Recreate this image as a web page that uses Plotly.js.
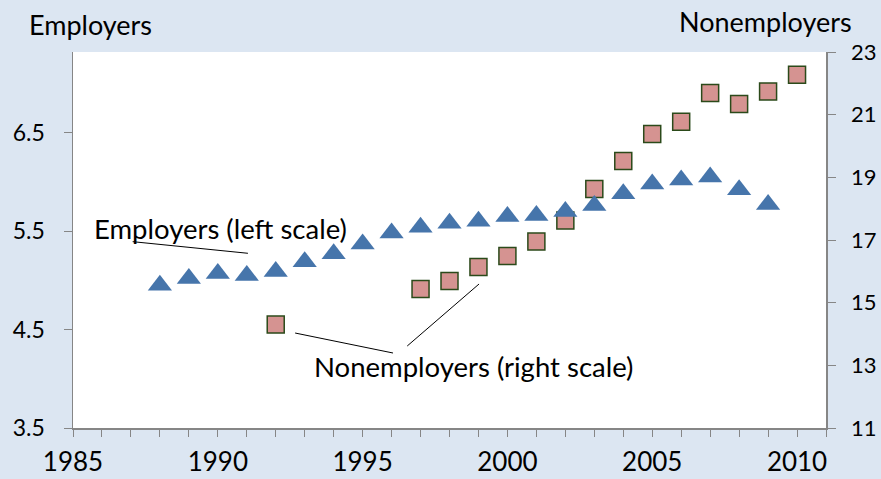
<!DOCTYPE html>
<html>
<head>
<meta charset="utf-8">
<script src="https://cdn.plot.ly/plotly-3.0.1.min.js"></script>
<style>html,body{margin:0;padding:0;background:#dce6f2;}#chart{width:881px;height:479px;}</style>
</head>
<body>
<div id="chart"></div>
<script>
const empYears = [1988,1989,1990,1991,1992,1993,1994,1995,1996,1997,1998,1999,2000,2001,2002,2003,2004,2005,2006,2007,2008,2009];
const employers = [4.95,5.02,5.07,5.05,5.09,5.19,5.27,5.37,5.48,5.54,5.58,5.60,5.65,5.66,5.70,5.76,5.88,5.98,6.02,6.05,5.92,5.77];
const nonYears = [1992,1997,1998,1999,2000,2001,2002,2003,2004,2005,2006,2007,2008,2009,2010];
const nonemployers = [14.30,15.44,15.69,16.14,16.49,16.95,17.62,18.63,19.52,20.38,20.77,21.69,21.34,21.74,22.27];
const xTickVals = [1985,1990,1995,2000,2005,2010];
const leftTicks = [3.5,4.5,5.5,6.5];
const rightTicks = [11,13,15,17,19,21,23];

const FONT = 'Lato, "Open Sans", sans-serif';
const AXC = '#868686';

const traces = [
  {x: nonYears, y: nonemployers, type: 'scatter', mode: 'markers', yaxis: 'y', name: 'Nonemployers',
   marker: {symbol: 'square', size: 17, color: '#d59391', line: {color: '#2b4a1a', width: 1.5}}},
  {x: empYears, y: employers, type: 'scatter', mode: 'markers', yaxis: 'y2', name: 'Employers',
   marker: {symbol: 'triangle-up', size: 21, color: '#4675ab', line: {width: 0}}}
];

const layout = {
  width: 881, height: 479,
  paper_bgcolor: '#dce6f2', plot_bgcolor: '#ffffff',
  margin: {l: 73, r: 55, t: 52, b: 51},
  showlegend: false,
  font: {family: FONT, color: '#000'},
  xaxis: {range: [1985, 2011], tickvals: xTickVals, ticks: 'outside', ticklen: 7, tickcolor: AXC, tickwidth: 1,
          showline: true, linecolor: AXC, linewidth: 1.5, showgrid: false, zeroline: false,
          tickfont: {size: 26, family: FONT}, ticklabelstandoff: 3,
          minor: {dtick: 1, tick0: 1985, ticks: 'outside', ticklen: 7, tickcolor: AXC, tickwidth: 1, showgrid: false}},
  yaxis: {range: [11, 23], tickvals: rightTicks, side: 'right', ticks: 'outside', ticklen: 8, tickcolor: AXC,
          showline: true, linecolor: AXC, linewidth: 1.5, showgrid: false, zeroline: false,
          tickfont: {size: 22, family: FONT}, ticklabelstandoff: 11},
  yaxis2: {range: [3.5, 7.32], tickvals: leftTicks, ticktext: leftTicks.map(v => v.toFixed(1)), side: 'left', overlaying: 'y',
           ticks: 'outside', ticklen: 8, tickcolor: AXC,
           showline: true, linecolor: AXC, linewidth: 1.5, showgrid: false, zeroline: false,
           tickfont: {size: 23, family: FONT}, ticklabelstandoff: 14},
  shapes: [
    {type: 'line', xref: 'x', yref: 'y2', x0: 1987.06, y0: 5.393, x1: 1991.04, y1: 5.275, line: {color: '#000', width: 1}},
    {type: 'line', xref: 'x', yref: 'y2', x0: 1992.67, y0: 4.465, x1: 1996.05, y1: 4.262, line: {color: '#000', width: 1}},
    {type: 'line', xref: 'x', yref: 'y2', x0: 1996.54, y0: 4.333, x1: 1999.02, y1: 4.963, line: {color: '#000', width: 1}}
  ],
  annotations: [
    {text: 'Employers (left scale)', xref: 'x', yref: 'y2', x: 1990.08, y: 5.53, showarrow: false,
     xanchor: 'center', yanchor: 'middle', font: {size: 27.5, family: FONT, color: '#000'}},
    {text: 'Nonemployers (right scale)', xref: 'x', yref: 'y2', x: 1998.82, y: 4.12, showarrow: false,
     xanchor: 'center', yanchor: 'middle', font: {size: 27.5, family: FONT, color: '#000'}},
    {text: 'Employers', xref: 'paper', yref: 'paper', x: 0.0226, y: 1.072, showarrow: false,
     xanchor: 'center', yanchor: 'middle', font: {size: 27, family: FONT, color: '#000'}},
    {text: 'Nonemployers', xref: 'paper', yref: 'paper', x: 0.920, y: 1.080, showarrow: false,
     xanchor: 'center', yanchor: 'middle', font: {size: 27, family: FONT, color: '#000'}}
  ]
};

Plotly.newPlot('chart', traces, layout, {displayModeBar: false, staticPlot: true});
</script>
</body>
</html>
